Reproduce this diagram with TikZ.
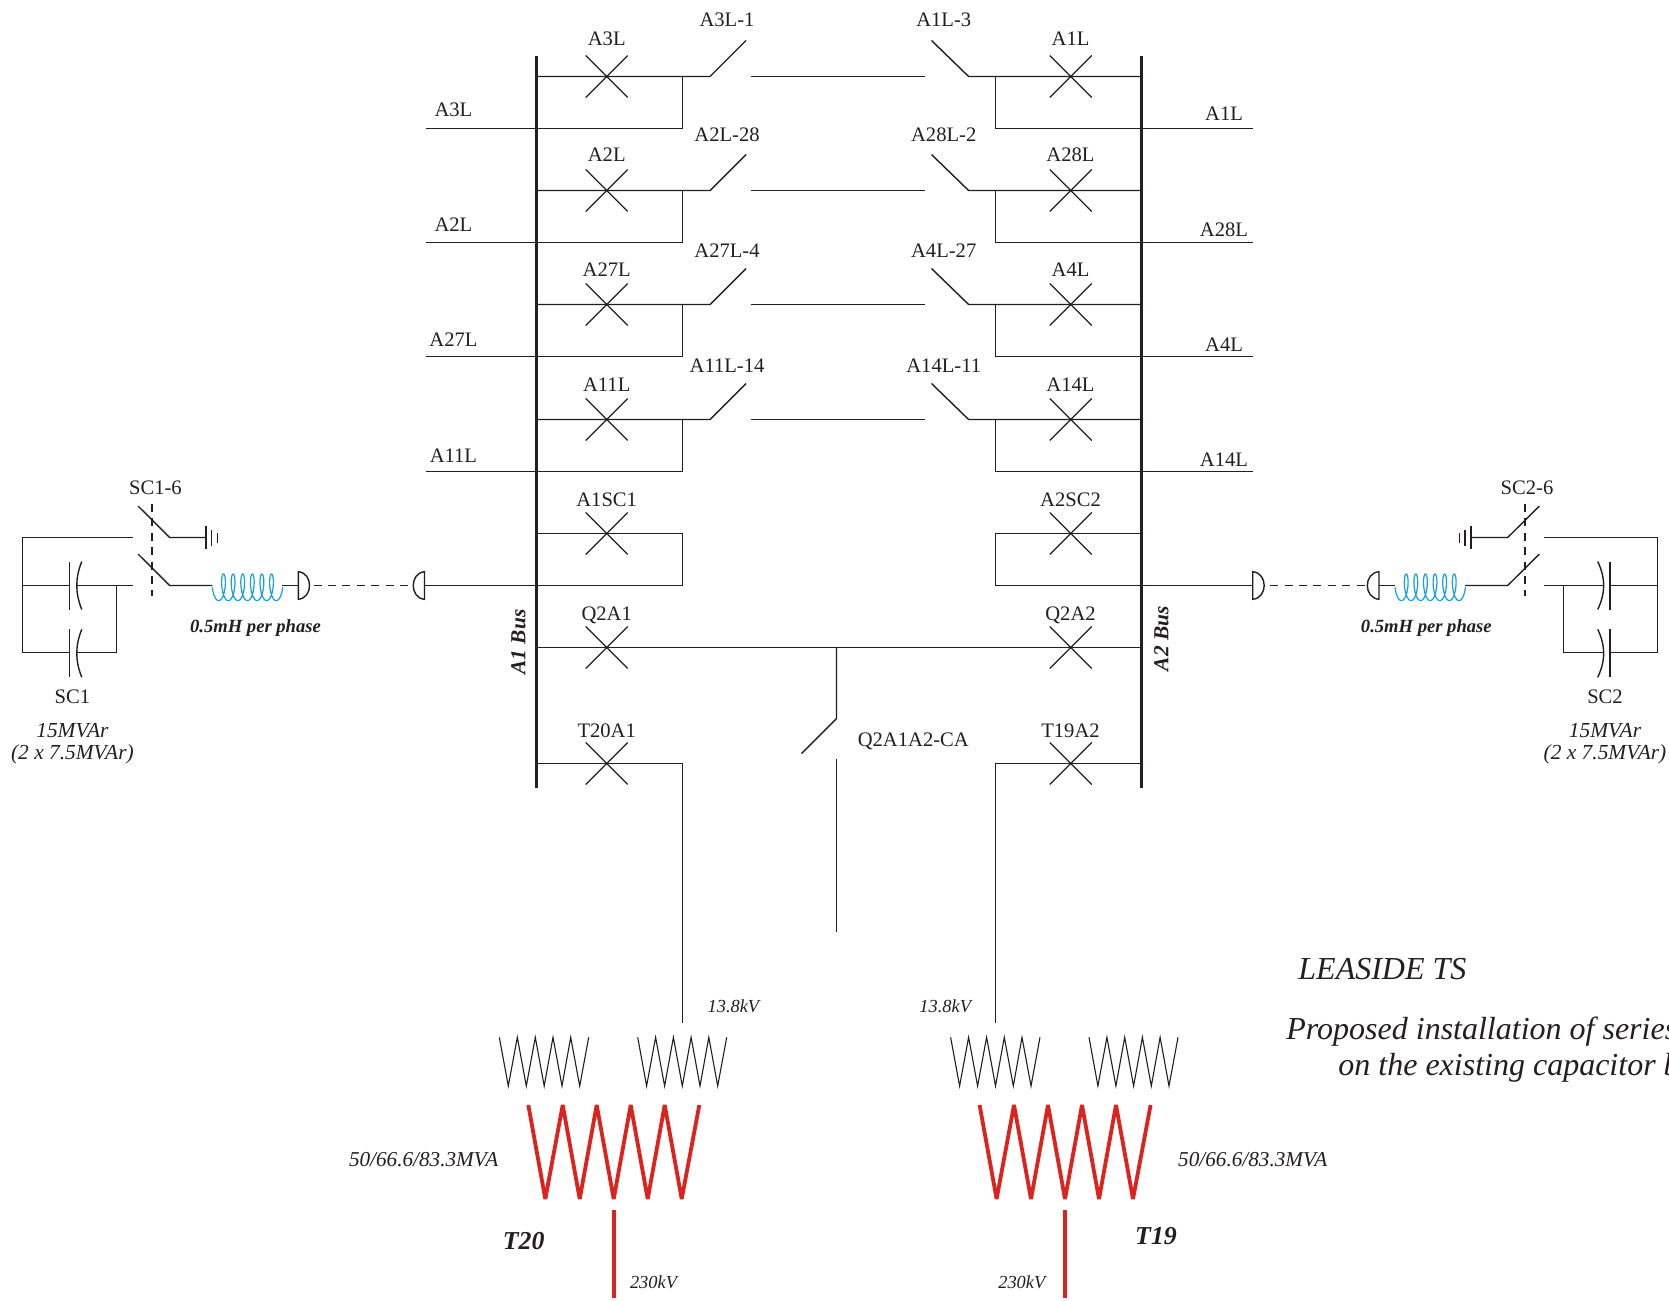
\documentclass[tikz,border=0pt]{standalone}
\usepackage{fontspec}
\setmainfont{Liberation Serif}
\usetikzlibrary{shapes.misc}
\definecolor{coilblue}{RGB}{20,160,220}
\definecolor{xfred}{RGB}{220,35,30}
\definecolor{ink}{RGB}{35,31,32}
\tikzset{
  wire/.style={line width=.7pt,draw=ink,line join=miter},
  thinw/.style={line width=.55pt,draw=ink,line join=miter},
  buswire/.style={line width=1.35pt,draw=ink},
  dashw/.style={line width=.6pt,draw=ink,dash pattern=on 4pt off 3.2pt},
  redw/.style={line width=1.9pt,draw=xfred,line join=miter,miter limit=3},
  coilw/.style={line width=.6pt,draw=coilblue},
  brk/.style={cross out,draw=ink,line width=.6pt,minimum size=21pt,inner sep=0pt,outer sep=0pt},
  lbl/.style={text=ink,inner sep=0pt,font=\fontsize{10.3}{12}\selectfont},
  itl/.style={text=ink,inner sep=0pt,font=\fontsize{10.7}{12}\selectfont\itshape,align=center},
  smi/.style={text=ink,inner sep=0pt,font=\fontsize{9.2}{11}\selectfont\itshape},
  mva/.style={text=ink,inner sep=0pt,font=\fontsize{10.6}{13}\selectfont\itshape},
  bbi/.style={text=ink,inner sep=0pt,font=\fontsize{10.7}{12}\selectfont\bfseries\itshape,rotate=90},
  coilt/.style={text=ink,inner sep=0pt,font=\fontsize{9.3}{11}\selectfont\bfseries\itshape},
  tname/.style={text=ink,inner sep=0pt,font=\fontsize{12.9}{14}\selectfont\bfseries\itshape},
  title/.style={text=ink,inner sep=0pt,anchor=base west,font=\fontsize{16}{19}\selectfont\itshape},
}
\begin{document}
\begin{tikzpicture}[x=0.5pt,y=-0.5pt]
\useasboundingbox (0,0) rectangle (1669,1300);
\fill[white] (0,0) rectangle (1669,1300);
\clip (0,0) rectangle (1669,1300);
% buses
\coordinate (a1top) at (536.7,56.4); \coordinate (a1bot) at (536.7,788);
\coordinate (a2top) at (1141.8,56.4); \coordinate (a2bot) at (1141.8,788);
\draw[buswire] (a1top) -- (a1bot);
\draw[buswire] (a2top) -- (a2bot);
% feeder rows
\foreach \i/\y/\z in {1/76.5/128.5,2/190.5/242.5,3/304.5/356.5,4/419.5/471.5}{
  \node[brk] (bl\i) at (606.7,\y) {};
  \node[brk] (br\i) at (1070.8,\y) {};
  \coordinate (la\i) at (536.7,\y);  \coordinate (lb\i) at (536.7,\z);
  \coordinate (ja\i) at (682.5,\y);  \coordinate (jb\i) at (682.5,\z);
  \coordinate (sa\i) at (710,\y);    \coordinate (sb\i) at (746,\y-36);
  \coordinate (ma\i) at (750.7,\y);  \coordinate (mb\i) at (925,\y);
  \coordinate (ta\i) at (968.6,\y);  \coordinate (tb\i) at (931.5,\y-36);
  \coordinate (ka\i) at (995.5,\y);  \coordinate (kb\i) at (995.5,\z);
  \coordinate (ra\i) at (1141.8,\y); \coordinate (rb\i) at (1141.8,\z);
  \coordinate (fl\i) at (425.5,\z);  \coordinate (fr\i) at (1253,\z);
  \draw[wire] (la\i) -- (sa\i) -- (sb\i);
  \draw[wire] (ja\i) -- (jb\i);
  \draw[wire] (fl\i) -- (jb\i);
  \draw[wire] (ma\i) -- (mb\i);
  \draw[wire] (tb\i) -- (ta\i) -- (ra\i);
  \draw[wire] (ka\i) -- (kb\i) -- (fr\i);
}
% capacitor tie rows
\node[brk] (bl5) at (606.7,533.5) {};
\node[brk] (br5) at (1070.8,533.5) {};
\coordinate (cl1) at (536.7,533.5); \coordinate (cl2) at (682.5,533.5);
\coordinate (cl3) at (682.5,585.5);   \coordinate (cl4) at (536.7,585.5);
\coordinate (cr1) at (1141.8,533.5); \coordinate (cr2) at (995.5,533.5);
\coordinate (cr3) at (995.5,585.5);    \coordinate (cr4) at (1141.8,585.5);
\draw[wire] (cl1) -- (cl2) -- (cl3) -- (cl4);
\draw[wire] (cr1) -- (cr2) -- (cr3) -- (cr4);
% bus tie row
\node[brk] (bl6) at (606.7,647.5) {};
\node[brk] (br6) at (1070.8,647.5) {};
\coordinate (ql) at (536.7,647.5); \coordinate (qr) at (1141.8,647.5);
\coordinate (qd) at (836.5,647.5); \coordinate (qe) at (836.5,718.5);
\coordinate (qf) at (801.5,753.6); \coordinate (qg) at (836.5,759);
\coordinate (qh) at (836.5,932.4);
\draw[wire] (ql) -- (qr);
\draw[wire] (qd) -- (qe) -- (qf);
\draw[wire] (qg) -- (qh);
% transformer rows
\node[brk] (bl7) at (606.7,763.5) {};
\node[brk] (br7) at (1070.8,763.5) {};
\coordinate (tl1) at (536.7,763.5); \coordinate (tl2) at (682.5,763.5); \coordinate (tl3) at (682.5,1022.7);
\coordinate (tr1) at (1141.8,763.5); \coordinate (tr2) at (995.5,763.5); \coordinate (tr3) at (995.5,1022.7);
\draw[wire] (tl1) -- (tl2) -- (tl3);
\draw[wire] (tr1) -- (tr2) -- (tr3);
% transformers
\foreach \d in {0,451.3}{
  \draw[thinw] (499.3+\d,1037.3) -- (508.3+\d,1086) -- (517.3+\d,1037.3) -- (526.3+\d,1086) -- (535.3+\d,1037.3) -- (544.2+\d,1086) -- (553+\d,1037.3) -- (562+\d,1086) -- (570.7+\d,1037.3) -- (579.7+\d,1086) -- (588.7+\d,1037.3);
  \draw[thinw] (637.7+\d,1037.3) -- (646.6+\d,1086) -- (655.6+\d,1037.3) -- (664.6+\d,1086) -- (673.4+\d,1037.3) -- (682.3+\d,1086) -- (691.1+\d,1037.3) -- (700+\d,1086) -- (708.8+\d,1037.3) -- (717.7+\d,1086) -- (726.7+\d,1037.3);
  \draw[redw] (528.3+\d,1105) -- (545.3+\d,1199) -- (562.7+\d,1105) -- (579.7+\d,1199) -- (596.7+\d,1105) -- (613.7+\d,1199) -- (630.7+\d,1105) -- (647.7+\d,1199) -- (664.7+\d,1105) -- (681.7+\d,1199) -- (699.3+\d,1105);
  \draw[redw] (613.7+\d,1210) -- (613.7+\d,1298);
}
% left capacitor bank
\coordinate (lw1) at (133,537.5); \coordinate (lw2) at (22.5,537.5); \coordinate (lw3) at (22.5,652.5);
\coordinate (lw4) at (69.6,652.5); \coordinate (lw5) at (76.8,652.5); \coordinate (lw6) at (116.5,652.5);
\coordinate (lw7) at (116.5,585.5); \coordinate (lw8) at (22.5,585.5); \coordinate (lw9) at (69.6,585.5);
\coordinate (lw10) at (76.8,585.5); \coordinate (lw11) at (133,585.5);
\draw[wire] (lw1) -- (lw2) -- (lw3) -- (lw4);
\draw[wire] (lw5) -- (lw6) -- (lw7);
\draw[wire] (lw8) -- (lw9);
\draw[wire] (lw10) -- (lw11);
\foreach \p in {0,67.8}{
  \draw[wire] (69.6,561.5+\p) -- (69.6,609.5+\p);
  \draw[wire] (81.8,561.5+\p) .. controls (75.1,578+\p) and (75.1,593+\p) .. (81.8,609.5+\p);
}
% left switches, earth, coil, plugs
\coordinate (ls1) at (138,506); \coordinate (ls2) at (169.6,537.5); \coordinate (lg1) at (206,537.5);
\coordinate (ls3) at (138,554); \coordinate (ls4) at (169.6,585.5); \coordinate (lc1) at (212.3,585.5);
\coordinate (lc2) at (282.3,585.5); \coordinate (lp1) at (298.3,585.5);
\coordinate (ld1) at (313.5,585.5); \coordinate (ld2) at (412.5,585.5); \coordinate (lp3) at (424.5,585.5);
\coordinate (lv1) at (152,504); \coordinate (lv2) at (152,596);
\draw[wire] (ls1) -- (ls2) -- (lg1);
\draw[wire] (ls3) -- (ls4) -- (lc1);
\draw[wire] (lc2) -- (lp1);
\draw[wire] (lp3) -- (cl4);
\draw[dashw] (lv1) -- (lv2);
\draw[dashw] (ld1) -- (ld2);
\draw[wire] (206,526) -- (206,549);
\draw[thinw] (211.8,530) -- (211.8,546);
\draw[thinw] (217.9,533) -- (217.9,543);
\draw[wire] (298.3,571.7) .. controls (313.3,573) and (313.3,598) .. (298.3,599.3) -- cycle;
\draw[wire] (424.5,571.7) .. controls (409.5,573) and (409.5,598) .. (424.5,599.3) -- cycle;
\draw[coilw] plot[domain=-90:2250,samples=280,smooth] ({218.7+\x/37.5+4*sin(\x)},{587.3+13.3*cos(\x)});
% right capacitor bank
\coordinate (rw1) at (1543.7,537.5); \coordinate (rw2) at (1657.5,537.5); \coordinate (rw3) at (1657.5,652.5);
\coordinate (rw4) at (1610,652.5); \coordinate (rw5) at (1603.5,652.5); \coordinate (rw6) at (1563.5,652.5);
\coordinate (rw7) at (1563.5,585.5); \coordinate (rw8) at (1657.5,585.5); \coordinate (rw9) at (1610,585.5);
\coordinate (rw10) at (1603.5,585.5); \coordinate (rw11) at (1543.7,585.5);
\draw[wire] (rw1) -- (rw2) -- (rw3) -- (rw4);
\draw[wire] (rw5) -- (rw6) -- (rw7);
\draw[wire] (rw8) -- (rw9);
\draw[wire] (rw10) -- (rw11);
\foreach \p in {0,67.8}{
  \draw[wire] (1610,561.5+\p) -- (1610,609.5+\p);
  \draw[wire] (1597.7,561.5+\p) .. controls (1605.6,578+\p) and (1605.6,593+\p) .. (1597.7,609.5+\p);
}
% right switches, earth, coil, plugs
\coordinate (rs1) at (1539.3,506); \coordinate (rs2) at (1507.7,537.5); \coordinate (rg1) at (1471,537.5);
\coordinate (rs3) at (1539.3,554); \coordinate (rs4) at (1507.7,585.5); \coordinate (rc1) at (1465,585.5);
\coordinate (rc2) at (1395,585.5); \coordinate (rp1) at (1379,585.5); \coordinate (rd1) at (1364.5,585.5);
\coordinate (rd2) at (1267,585.5); \coordinate (rp3) at (1252.7,585.5);
\coordinate (rv1) at (1525,504); \coordinate (rv2) at (1525,596);
\draw[wire] (rs1) -- (rs2) -- (rg1);
\draw[wire] (rs3) -- (rs4) -- (rc1);
\draw[wire] (rc2) -- (rp1);
\draw[wire] (cr4) -- (rp3);
\draw[dashw] (rv1) -- (rv2);
\draw[dashw] (rd1) -- (rd2);
\draw[wire] (1471,526) -- (1471,549);
\draw[thinw] (1465,530) -- (1465,546);
\draw[thinw] (1459.7,533) -- (1459.7,543);
\draw[wire] (1252.7,571.7) .. controls (1268,573) and (1268,598) .. (1252.7,599.3) -- cycle;
\draw[wire] (1379,571.7) .. controls (1363.4,573) and (1363.4,598) .. (1379,599.3) -- cycle;
\draw[coilw] plot[domain=-90:2250,samples=280,smooth] ({1401.4+\x/37.5+4*sin(\x)},{587.3+13.3*cos(\x)});
% breaker labels
\foreach \n/\t/\y in {t1/A3L/38.3,t2/A2L/154.3,t3/A27L/269.3,t4/A11L/384.2,t5/A1SC1/500,t6/Q2A1/615.5,t7/T20A1/731}
  \node[lbl] (bk\n) at (606.7,\y) {\t};
\foreach \n/\t/\y in {t1/A1L/38.3,t2/A28L/154.3,t3/A4L/269.3,t4/A14L/384.2,t5/A2SC2/500,t6/Q2A2/615.5,t7/T19A2/731}
  \node[lbl] (bq\n) at (1070.5,\y) {\t};
% switch labels
\foreach \n/\t/\y in {t1/A3L-1/20,t2/A2L-28/135,t3/A27L-4/251,t4/A11L-14/366}
  \node[lbl] (sw\n) at (727,\y) {\t};
\foreach \n/\t/\y in {t1/A1L-3/20,t2/A28L-2/135,t3/A4L-27/251,t4/A14L-11/366}
  \node[lbl] (sx\n) at (943.7,\y) {\t};
% feeder labels
\foreach \n/\t/\y in {t1/A3L/109.6,t2/A2L/225,t3/A27L/340,t4/A11L/456}
  \node[lbl] (fa\n) at (453.4,\y) {\t};
\foreach \n/\t/\y in {t1/A1L/113.6,t2/A28L/229.5,t3/A4L/344.6,t4/A14L/459.6}
  \node[lbl] (fb\n) at (1224,\y) {\t};
% other labels
\node[lbl] (sc16) at (155.4,487.5) {SC1-6};
\node[lbl] (sc26) at (1527,487.5) {SC2-6};
\node[lbl] (sc1) at (72.4,697) {SC1};
\node[lbl] (sc2) at (1605,697) {SC2};
\node[itl] (rt1a) at (72.4,731) {15MVAr};
\node[itl] (rt1b) at (72.4,754) {(2 x 7.5MVAr)};
\node[itl] (rt2a) at (1605,731) {15MVAr};
\node[itl] (rt2b) at (1605,754) {(2 x 7.5MVAr)};
\node[coilt] (co1) at (255.5,628) {0.5mH per phase};
\node[coilt] (co2) at (1426.3,628) {0.5mH per phase};
\node[bbi] (bus1) at (518.4,642) {A1 Bus};
\node[bbi] (bus2) at (1161.3,638.6) {A2 Bus};
\node[lbl] (qca) at (913.3,741.5) {Q2A1A2-CA};
\node[smi] (v1) at (733.4,1006) {13.8kV};
\node[smi] (v2) at (945.2,1006) {13.8kV};
\node[mva] (m1) at (423.6,1160) {50/66.6/83.3MVA};
\node[mva] (m2) at (1252.8,1160) {50/66.6/83.3MVA};
\node[tname] (t20) at (523.7,1241) {T20};
\node[tname] (t19) at (1156,1236) {T19};
\node[smi] (h1) at (653.5,1282.6) {230kV};
\node[smi] (h2) at (1021.8,1282.6) {230kV};
\node[title] (ti1) at (1298,979.3) {LEASIDE TS};
\node[title] (ti2) at (1286,1039.7) {Proposed installation of series};
\node[title] (ti3) at (1338,1075) {on the existing capacitor b};
\end{tikzpicture}
\end{document}
